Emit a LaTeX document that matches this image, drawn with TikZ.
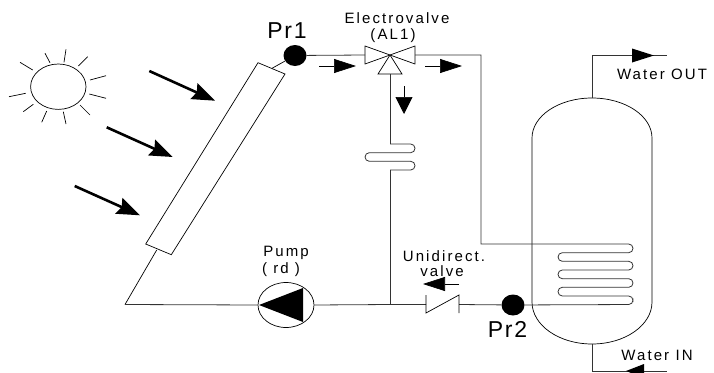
\documentclass[tikz,border=0pt]{standalone}
\usepackage{fontspec}
\usetikzlibrary{arrows.meta,shapes.geometric}
\newfontfamily\bigfont[LetterSpace=8]{Liberation Sans}
\newfontfamily\smallfont[LetterSpace=14]{Liberation Sans}
\tikzset{
    pipe/.style = {line width = 0.8pt, black!80},
    part/.style = {line width = 0.7pt, black},
    sensor/.style = {ellipse, fill = black, minimum width = 23pt, minimum height = 21pt, inner sep = 0pt},
    bigname/.style = {font = \bigfont\fontsize{23}{23}\selectfont, inner sep = 0pt},
    smallname/.style = {font = \smallfont\fontsize{15}{15}\selectfont, inner sep = 0pt},
    flow/.style = {line width = 0.7pt, -{Triangle[length = 22pt, width = 14pt]}},
    flowdown/.style = {line width = 0.7pt, -{Triangle[length = 17pt, width = 17pt]}},
    sunray/.style = {line width = 2.6pt, -{Stealth[length = 23pt, width = 17pt, inset = 3pt]}},
}
\begin{document}
\begin{tikzpicture}[x = 1pt, y = -1pt]
            \useasboundingbox (0, 0) rectangle (714, 372);

            % Sun
            \draw [part] (58.3, 86.7) ellipse [x radius = 27.7pt, y radius = 22.7pt];
            \foreach \xa/\ya/\xb/\yb in {20/62.3/32.7/70, 45/53.3/50/62.7, 66/49.3/64/62.3, 87.7/56.7/78.3/66,
                106/75.7/90/80, 106/98.3/89.3/94, 90/115/80/105, 66/124/63.3/111.7,
                41.7/122.3/46.7/111, 23.3/111.7/33.3/104.3, 9/96.7/25.7/93.3}
                \draw [part] (\xa, \ya) -- (\xb, \yb);

            % Rays towards the collector
            \draw [sunray] (149.3, 71) -- (215, 100.7);
            \draw [sunray] (106.7, 127.3) -- (172.7, 157);
            \draw [sunray] (74.7, 186) -- (140, 215.3);

            % Collector
            \draw [part] (258, 62.7) -- (285, 74) -- (171.3, 254.7) -- (145.7, 244) -- cycle;

            % Sensors, pump and junctions
            \node [sensor] (pr1) at (295, 55.5) {};
            \node [sensor] (pr2) at (513, 305) {};
            \node [ellipse, draw, part, minimum width = 56pt, minimum height = 45pt, inner sep = 0pt] (pump) at (286, 305) {};
            \coordinate (corner) at (125, 304.5);
            \coordinate (valve) at (390, 55);
            \coordinate (valveL) at (365, 55);
            \coordinate (valveR) at (415, 55);
            \coordinate (valveB) at (390, 74);
            \coordinate (tee) at (390, 304.5);
            \coordinate (checkL) at (426, 304.5);
            \coordinate (checkR) at (459, 304.5);

            % Collector connections
            \draw [part] (272, 68.3) -- (pr1);
            \draw [part] (156.7, 250) -- (corner);
            \draw [pipe] (corner) -- (pump.west);

            % Three way valve
            \draw [part, fill = white] (valve) -- (365, 46) -- (365, 64) -- cycle;
            \draw [part, fill = white] (valve) -- (415, 46) -- (415, 64) -- cycle;
            \draw [part, fill = white] (valve) -- (378, 74) -- (402, 74) -- cycle;

            % Circuit
            \draw [pipe] (pr1) -- (valveL);
            \draw [pipe] (valveB) -- (390, 144);
            \draw [pipe, rounded corners = 4.3pt] (390, 144) -- (415, 144) -- (415, 152.7) -- (365, 152.7)
                -- (365, 161.3) -- (415, 161.3) -- (415, 170) -- (390, 170);
            \draw [pipe] (390, 170) -- (tee);
            \draw [pipe] (pump.east) -- (tee) -- (checkL);
            \draw [pipe] (checkR) -- (pr2);

            % Check valve
            \draw [part] (426, 295) -- (checkL) -- (426, 313) -- (459, 295) -- (checkR) -- (459, 313);

            % Pump wheel
            \fill (259, 305) -- (303, 288) -- (303, 322) -- cycle;

            % Tank
            \draw [part] (532, 138) arc [start angle = 180, end angle = 0, x radius = 60pt, y radius = 40pt]
                -- (652, 302) arc [start angle = 0, end angle = -180, x radius = 60pt, y radius = 42pt] -- cycle;

            % Coil
            \draw [pipe] (valveR) -- (481, 55) -- (481, 244) -- (620, 244) [rounded corners = 4.3pt] -- (633, 244) -- (633, 252.7) -- (558, 252.7)
                -- (558, 261.3) -- (633, 261.3) -- (633, 270) -- (558, 270)
                -- (558, 278.7) -- (633, 278.7) -- (633, 287.3) -- (558, 287.3)
                -- (558, 296) -- (633, 296) -- (633, 304.5) -- (pr2);

            % Water connections
            \draw [pipe] (592, 98) -- (592, 55.5) -- (667, 55.5);
            \draw [pipe] (592, 344) -- (592, 371) -- (667, 371);
            \fill (632, 48.5) -- (654, 55.5) -- (632, 62.5) -- cycle;
            \fill (626, 371) -- (644, 364) -- (644, 378) -- cycle;

            % Flow direction
            \draw [flow] (319, 66) -- (356, 66);
            \draw [flow] (425, 66) -- (462, 66);
            \draw [flowdown] (404, 86) -- (404, 114);
            \draw [flow] (459, 284) -- (423, 284);

            % Names
            \node [bigname] (pr1name) at (287, 30.7) {Pr1};
            \node [bigname] (pr2name) at (507.5, 329) {Pr2};
            \node [smallname] (valvename) at (397, 18.5) {Electrovalve};
            \node [smallname] (valvename2) at (393, 35.5) {(AL1)};
            \node [smallname] (pumpname) at (286, 253) {Pump};
            \node [smallname] (pumpname2) at (281, 270) {( rd )};
            \node [smallname] (checkname) at (444, 256) {Unidirect.};
            \node [smallname] (checkname2) at (442, 271) {valve};
            \node [smallname] (outname) at (662, 74.5) {Water OUT};
            \node [smallname] (inname) at (657, 355) {Water IN};
        \end{tikzpicture}
\end{document}
